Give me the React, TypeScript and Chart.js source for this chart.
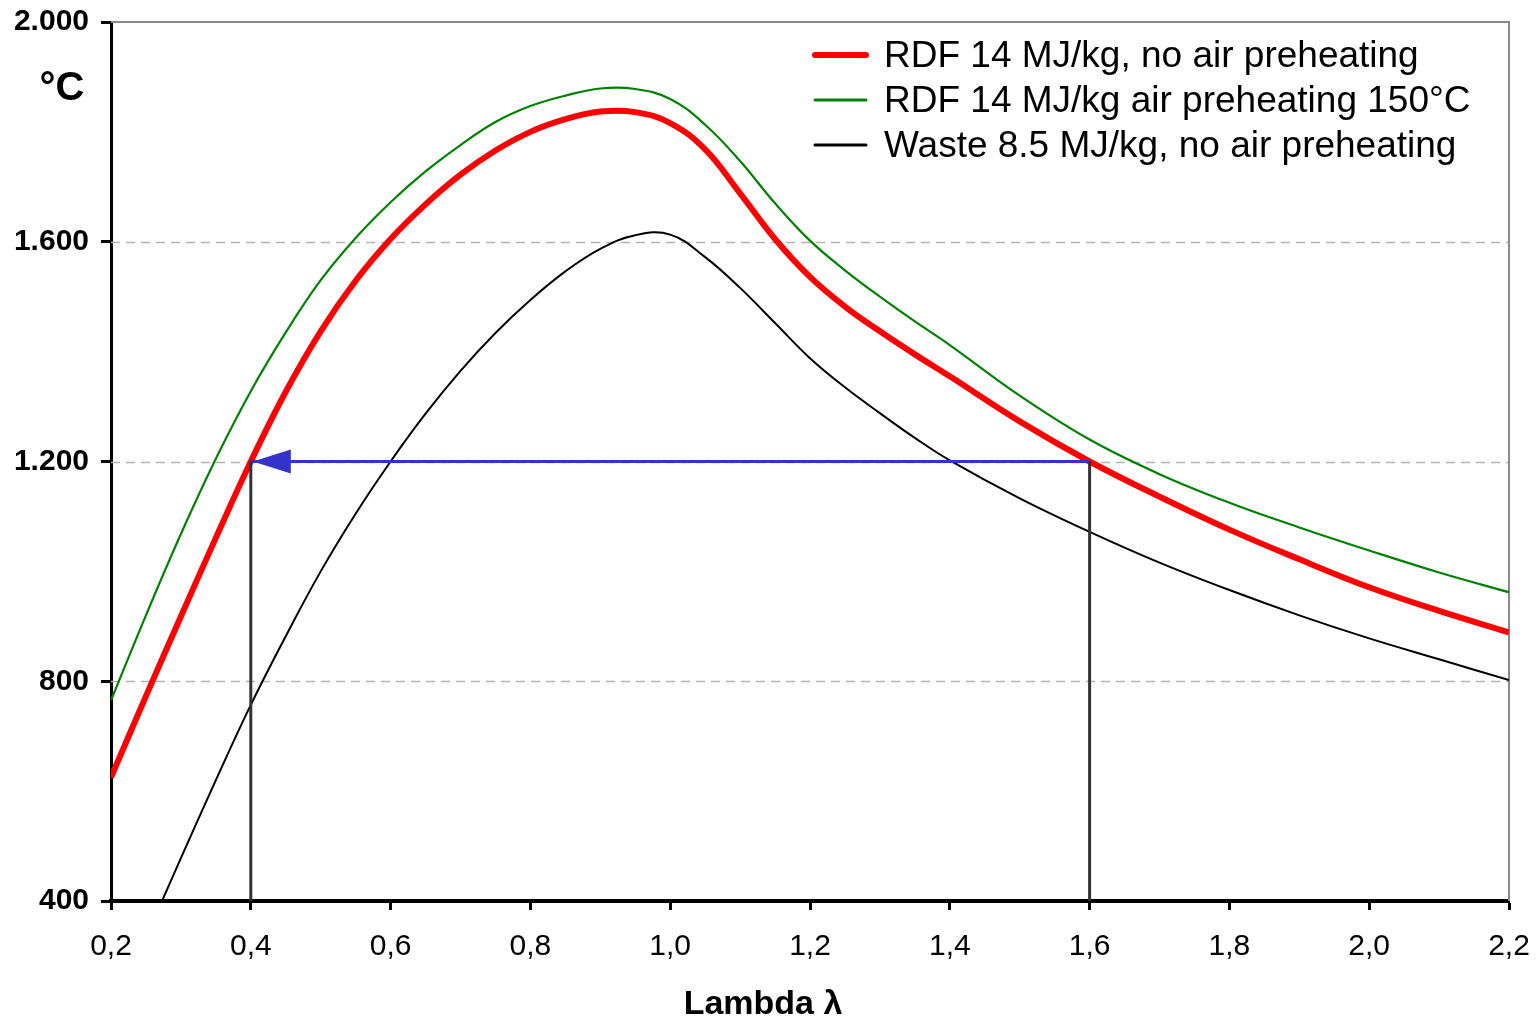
import React, { useEffect, useRef } from 'react';
import { Chart, registerables } from 'chart.js';

Chart.register(...registerables);

// ---- data ----
const xTickLabels = ['0,2', '0,4', '0,6', '0,8', '1,0', '1,2', '1,4', '1,6', '1,8', '2,0', '2,2'];
const yTickLabels = ['400', '800', '1.200', '1.600', '2.000'];
const seriesLabels = [
  'RDF 14 MJ/kg, no air preheating',
  'RDF 14 MJ/kg air preheating 150°C',
  'Waste 8.5 MJ/kg, no air preheating',
];
const xAxisTitle = 'Lambda λ';
const yAxisUnit = '°C';

const redLambda = [0.2, 0.25, 0.3, 0.35, 0.4, 0.45, 0.5, 0.55, 0.6, 0.65, 0.7, 0.75, 0.8, 0.85, 0.9, 0.95, 1.0, 1.05, 1.1, 1.15, 1.2, 1.25, 1.3, 1.35, 1.4, 1.5, 1.6, 1.7, 1.8, 1.9, 2.0, 2.1, 2.2];
const redTemp = [625, 773, 918, 1061, 1200, 1327, 1437, 1529, 1605, 1668, 1722, 1766, 1800, 1823, 1837, 1836, 1816, 1768, 1688, 1605, 1536, 1482, 1437, 1395, 1355, 1273, 1200, 1136, 1076, 1022, 971, 928, 889];

const greenLambda = [0.2, 0.25, 0.3, 0.35, 0.4, 0.45, 0.5, 0.55, 0.6, 0.65, 0.7, 0.75, 0.8, 0.85, 0.9, 0.95, 1.0, 1.05, 1.1, 1.15, 1.2, 1.25, 1.3, 1.35, 1.4, 1.5, 1.6, 1.7, 1.8, 1.9, 2.0, 2.1, 2.2];
const greenTemp = [765, 920, 1068, 1205, 1328, 1435, 1530, 1607, 1672, 1728, 1776, 1818, 1847, 1866, 1879, 1878, 1860, 1813, 1747, 1670, 1602, 1548, 1500, 1455, 1412, 1320, 1240, 1177, 1125, 1080, 1038, 998, 962];

const blackLambda = [0.273, 0.3, 0.35, 0.4, 0.45, 0.5, 0.55, 0.6, 0.65, 0.7, 0.75, 0.8, 0.85, 0.9, 0.95, 1.0, 1.05, 1.1, 1.15, 1.2, 1.25, 1.3, 1.35, 1.4, 1.5, 1.6, 1.7, 1.8, 1.9, 2.0, 2.1, 2.2];
const blackTemp = [400, 478, 620, 757, 882, 1000, 1105, 1200, 1287, 1365, 1434, 1494, 1546, 1587, 1612, 1613, 1572, 1516, 1452, 1388, 1335, 1288, 1243, 1202, 1133, 1072, 1016, 966, 920, 878, 840, 802];

const markerLambdas = [0.4, 1.6];
const markerTemp = 1200;
const axisMinTemp = 400;
const axisMaxTemp = 2000;

const seriesColors = ['#ff0000', '#008000', '#000000'];
const seriesWidths = [6, 2.2, 2];
const FONT = '"Liberation Sans", Arial, sans-serif';

const toPts = (xs: number[], ys: number[]) => xs.map((x, i) => ({ x, y: ys[i] }));

const decorPlugin = {
  id: 'decor',
  beforeDatasetsDraw(chart: any) {
    const { ctx, chartArea, scales } = chart;
    const ys = scales.y;
    const xs = scales.x;
    ctx.save();
    ctx.strokeStyle = '#b4b4b4';
    ctx.lineWidth = 1.5;
    ctx.setLineDash([9, 6]);
    ys.ticks.forEach((t: any) => {
      if (t.value <= axisMinTemp || t.value >= axisMaxTemp) return;
      const py = Math.round(ys.getPixelForValue(t.value)) + 0.5;
      ctx.beginPath();
      ctx.moveTo(chartArea.left, py);
      ctx.lineTo(chartArea.right, py);
      ctx.stroke();
    });
    ctx.setLineDash([]);
    ctx.strokeStyle = '#8a8a8a';
    ctx.lineWidth = 2;
    const topY = ys.getPixelForValue(axisMaxTemp);
    const rightX = xs.getPixelForValue(xs.max);
    ctx.beginPath();
    ctx.moveTo(chartArea.left, topY);
    ctx.lineTo(rightX, topY);
    ctx.lineTo(rightX, chartArea.bottom);
    ctx.stroke();
    ctx.restore();
  },
  afterDatasetsDraw(chart: any) {
    const { ctx, scales } = chart;
    const xs = scales.x;
    const ys = scales.y;
    ctx.save();
    const tipX = xs.getPixelForValue(markerLambdas[0]) + 2;
    const tipY = ys.getPixelForValue(markerTemp);
    ctx.fillStyle = '#3333cc';
    ctx.beginPath();
    ctx.moveTo(tipX, tipY);
    ctx.lineTo(tipX + 38, tipY - 12);
    ctx.lineTo(tipX + 38, tipY + 12);
    ctx.closePath();
    ctx.fill();

    const legendRows = [55, 100, 145];
    ctx.font = `37px ${FONT}`;
    ctx.textBaseline = 'middle';
    ctx.textAlign = 'left';
    seriesLabels.forEach((lab, i) => {
      const y = legendRows[i];
      ctx.strokeStyle = seriesColors[i];
      ctx.lineWidth = i === 0 ? 6 : 3;
      ctx.lineCap = 'round';
      ctx.beginPath();
      ctx.moveTo(815, y);
      ctx.lineTo(866, y);
      ctx.stroke();
      ctx.fillStyle = '#000';
      ctx.fillText(lab, 884, y + 2);
    });

    ctx.font = `bold 40px ${FONT}`;
    ctx.textAlign = 'center';
    ctx.fillText(yAxisUnit, 62, 89);

    ctx.font = `bold 34px ${FONT}`;
    ctx.fillText(xAxisTitle, 763, 1005);
    ctx.restore();
  },
};

const zeroPad = (s: any) => {
  s.paddingTop = 0;
  s.paddingBottom = 0;
  s.paddingLeft = 0;
  s.paddingRight = 0;
};

export default function App() {
  const ref = useRef<HTMLCanvasElement | null>(null);
  useEffect(() => {
    if (!ref.current) return;
    const datasets: any[] = [
      ...markerLambdas.map((lx) => ({
        label: 'marker',
        data: [{ x: lx, y: axisMinTemp }, { x: lx, y: markerTemp }],
        borderColor: '#333333',
        borderWidth: 3,
        pointRadius: 0,
        tension: 0,
        order: 0,
      })),
      {
        label: 'arrow',
        data: [{ x: markerLambdas[1], y: markerTemp }, { x: markerLambdas[0], y: markerTemp }],
        borderColor: '#3333cc',
        borderWidth: 3,
        pointRadius: 0,
        tension: 0,
        order: 0,
      },
      {
        label: seriesLabels[0],
        data: toPts(redLambda, redTemp),
        borderColor: seriesColors[0],
        borderWidth: seriesWidths[0],
        pointRadius: 0,
        tension: 0.4,
        order: 1,
      },
      {
        label: seriesLabels[1],
        data: toPts(greenLambda, greenTemp),
        borderColor: seriesColors[1],
        borderWidth: seriesWidths[1],
        pointRadius: 0,
        tension: 0.4,
        order: 2,
      },
      {
        label: seriesLabels[2],
        data: toPts(blackLambda, blackTemp),
        borderColor: seriesColors[2],
        borderWidth: seriesWidths[2],
        pointRadius: 0,
        tension: 0.4,
        order: 3,
      },
    ];
    const chart = new Chart(ref.current, {
      type: 'line',
      data: { datasets },
      options: {
        animation: false,
        responsive: false,
        maintainAspectRatio: false,
        layout: { padding: { top: 22, right: 30, left: 0, bottom: 0 } },
        plugins: { legend: { display: false }, tooltip: { enabled: false }, title: { display: false } },
        elements: { line: { fill: false, capBezierPoints: true } },
        scales: {
          x: {
            type: 'linear',
            min: 0.2,
            max: 2.2,
            afterFit: (s: any) => { s.height = 119; zeroPad(s); },
            ticks: {
              stepSize: 0.2,
              autoSkip: false,
              maxRotation: 0,
              padding: 19,
              color: '#000',
              font: { family: FONT, size: 30 },
              callback: (_v: any, i: number) => xTickLabels[i],
            },
            grid: { drawOnChartArea: false, drawTicks: true, tickLength: 9, tickColor: '#000', tickWidth: 3 },
            border: { display: true, color: '#000', width: 4 },
          },
          y: {
            type: 'linear',
            min: axisMinTemp,
            max: axisMaxTemp,
            afterFit: (s: any) => { s.width = 111; zeroPad(s); },
            ticks: {
              stepSize: 400,
              autoSkip: false,
              padding: 12,
              color: '#000',
              font: { family: FONT, size: 30, weight: 'bold' },
              callback: (_v: any, i: number) => yTickLabels[i],
            },
            grid: { drawOnChartArea: false, drawTicks: true, tickLength: 10, tickColor: '#000', tickWidth: 3 },
            border: { display: true, color: '#000', width: 3 },
          },
        },
      } as any,
      plugins: [decorPlugin],
    });
    return () => chart.destroy();
  }, []);
  return (
    <div style={{ position: 'absolute', left: 0, top: 0, width: 1539, height: 1020, background: '#fff' }}>
      <canvas ref={ref} width={1539} height={1020} style={{ width: 1539, height: 1020, display: 'block' }} />
    </div>
  );
}
